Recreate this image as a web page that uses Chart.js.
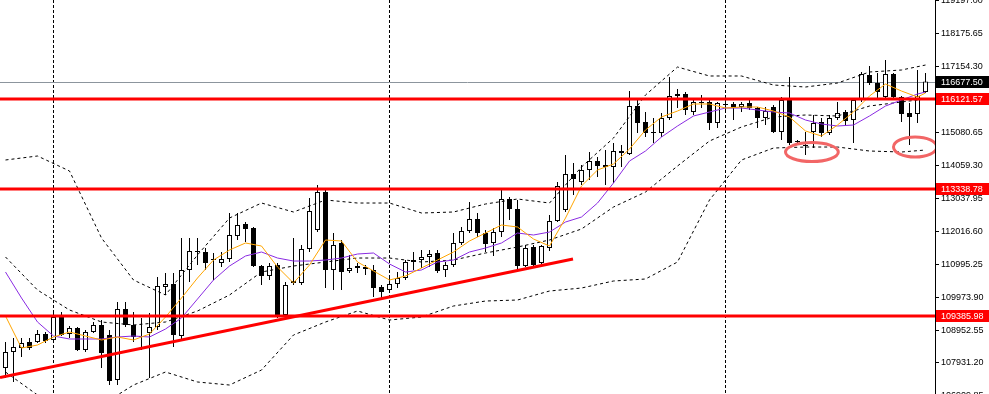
<!DOCTYPE html>
<html>
<head>
<meta charset="utf-8">
<script src="https://cdn.jsdelivr.net/npm/chart.js@4.4.1/dist/chart.umd.min.js"></script>
<style>
  html, body { margin: 0; padding: 0; background: #fff; overflow: hidden; }
  #wrap { width: 989px; height: 394px; overflow: hidden; }
</style>
</head>
<body>
<div id="wrap"><canvas id="chart" width="989" height="420"></canvas></div>
<script>
// Candles (bar index 0..115)
const openP = [
  107776,108273,108397,108583,108583,108832,108646,109360,108832,109018,
  108335,108894,109112,108801,107403,109609,109112,108770,108863,109049,
  110292,110386,108770,110821,111411,111380,111162,111038,111162,111877,
  112250,112126,110945,110634,110976,109422,110417,110417,111473,112063,
  113244,110821,111660,110790,110883,110852,110821,110292,110199,110386,
  110572,111069,111131,111225,111349,110821,110976,111660,112032,112405,
  111970,111660,112001,113027,112716,110945,111535,111038,111504,112343,
  112685,113804,113555,113928,114207,114083,114021,114518,114425,115916,
  115419,115109,115077,115544,116289,116289,115730,116041,116041,115388,
  115979,115979,115885,116010,115854,115544,115885,115109,116103,114829,
  114705,115109,115419,115077,115544,115730,115481,116103,116880,116631,
  116196,116911,116196,115699,115668,116351
];
const highP = [
  108583,108708,108708,108708,108956,108894,109516,109516,109081,109049,
  108956,109205,109267,108956,109826,109826,109516,109329,109484,110603,
  110727,110727,111815,111815,111815,111504,111349,111380,112592,112592,
  112312,112157,110976,111038,111038,110448,111815,111597,113058,113462,
  113368,111970,111753,111287,111038,110976,110976,110354,110603,110758,
  111131,111380,111442,111442,111442,111069,111970,112157,112933,112592,
  112063,112126,113306,113089,112996,111597,111597,111597,112530,113555,
  114394,114145,114083,114487,114332,114549,114767,114705,116382,116103,
  115730,115544,115699,116817,116445,116351,116134,116258,116103,116041,
  116165,116041,116041,116103,115885,115885,115947,116196,116817,114860,
  115109,115637,115544,115637,116041,115792,116165,116973,117159,116942,
  117346,116942,116227,116010,117035,116942
];
const lowP = [
  107465,107341,108117,108335,108552,108552,108583,108770,108708,108304,
  108273,108863,107776,107247,107247,109049,108583,108335,107465,108956,
  110044,108428,108646,110448,110976,110821,110510,110914,111069,111753,
  111691,110914,110354,110510,109329,109360,110354,110354,111380,112001,
  110261,110199,110199,110727,110727,110665,109982,109951,110106,110261,
  110510,110821,110883,110914,110727,110603,110914,111597,111970,111846,
  111380,111256,111846,112374,110821,110914,110914,110976,111411,112312,
  112623,113151,113462,113617,113710,113462,113524,114021,114394,115077,
  114953,114767,114953,115481,115854,115637,115637,115854,115171,115233,
  115730,115481,115730,115792,115233,115326,115077,114860,114705,114767,
  114394,114611,114953,115015,115481,115326,114767,116041,116569,116103,
  116165,116165,115419,114705,115388,116320
];
const closeP = [
  108273,108428,108552,108397,108832,108614,109360,108801,109018,108335,
  108894,109112,108242,107372,109609,109112,108739,108739,109049,110323,
  110386,108801,110821,111411,111380,111038,111131,111162,111908,112219,
  112095,110945,110634,110945,109422,110354,110479,111473,112654,113244,
  110821,111597,110758,110883,110945,110914,110261,110137,110386,110572,
  111069,111131,111225,111318,110790,110976,111660,112032,112405,111970,
  111628,112001,113027,112716,110945,111504,110976,111566,112343,113431,
  113804,113648,113928,114207,114052,114021,114518,114456,115916,115388,
  115077,115077,115544,116227,116227,115792,116041,116010,115388,116010,
  115947,115854,115979,115854,115544,115761,115109,116103,114767,114798,
  114674,115388,115077,115544,115699,115450,116103,116911,116631,116351,
  116911,116196,115668,115575,116227,116677.50
];
const lastPrice = 116677.50;

// Moving averages, read every second bar
const maIdx = [0,2,4,6,8,10,12,14,16,18,20,22,24,26,28,30,32,34,36,38,40,42,44,46,48,50,52,54,56,58,
  60,62,64,66,68,70,72,74,76,78,80,82,84,86,88,90,92,94,96,98,100,102,104,106,108,110,112,114,115];
const maFast = [
  109391,108397,108490,108739,108894,108770,108646,108739,108646,108832,
  109360,109951,110572,111131,111442,111660,111566,110914,110417,110976,
  111753,111722,111069,110790,110510,110634,110883,111131,111380,111722,
  111970,112219,112157,111784,111566,112436,113431,113928,114114,114580,
  115171,115575,115761,115979,115979,115854,115885,115885,115761,115575,
  115140,114984,115326,115730,116227,116600,116382,116196,116320
];
const maSlow = [
  110758,109951,109205,108770,108677,108677,108677,108739,108770,108739,
  108987,109329,109919,110510,110945,111256,111380,111193,111100,111100,
  111131,111193,111318,111349,111007,110758,110821,111069,111131,111380,
  111504,111660,111970,111908,112001,112312,112467,112902,113524,114207,
  114518,114953,115295,115606,115730,115854,115854,115792,115730,115699,
  115481,115357,115295,115326,115606,115916,116103,116289,116351
];

// Bollinger bands, read every fourth bar
const bandIdx = [0,4,8,12,16,20,24,28,32,36,40,44,48,52,56,60,64,68,72,76,80,84,88,92,96,100,104,108,112,115];
const bandUpper = [
  114239,114363,113897,111815,110510,110044,111287,112436,112902,112623,
  112996,112902,112902,112592,112623,112871,113027,112902,114021,114922,
  116258,117128,116849,116849,116569,116507,116631,116973,117035,117190
];
const bandMiddle = [
  111225,110199,109578,109205,109112,109205,109547,110044,110758,110945,
  111069,111193,111193,111069,111131,111349,111535,111753,112095,112778,
  113244,114052,114829,115264,115575,115637,115606,115916,116041,116134
];
const bandLower = [
  107651,106937,106626,106626,107247,107651,107341,107247,107713,108801,
  109205,109547,109267,109360,109702,109857,109888,110168,110261,110479,
  110541,111069,112996,114239,114611,114642,114642,114518,114487,114549
];

// Drawn objects
const levels = [116121.57, 113338.78, 109385.98];
const trendIdx = [-0.6875, 70.94];
const trendPrice = [107481, 111162];
const ellipseIdx = [100.8, 113.7];
const ellipsePrice = [114487, 114642];
const ellipseHalfBars = [3.3, 2.7];
const ellipseHalfPrice = [295, 311];

const priceTicks = [119197.00, 118175.65, 117154.30, 116132.95, 115080.65, 114059.30,
  113037.95, 112016.60, 110995.25, 109973.90, 108952.55, 107931.20, 106909.85];
const vGridIdx = [6, 48, 90];

const pts = (xs, ys) => xs.map((x, i) => ({x: x, y: ys[i]}));
const labelFont = '9px "Liberation Sans", Arial, sans-serif';

const overlay = {
  id: 'overlay',
  beforeDatasetsDraw(chart) {
    const {ctx, chartArea: a} = chart;
    const y = chart.scales.y;
    const py = Math.round(y.getPixelForValue(lastPrice)) + 0.5;
    ctx.save();
    ctx.strokeStyle = '#8c959d';
    ctx.lineWidth = 1;
    ctx.beginPath();
    ctx.moveTo(a.left, py);
    ctx.lineTo(a.right, py);
    ctx.stroke();
    ctx.restore();
  },
  afterDatasetsDraw(chart) {
    const {ctx, chartArea: a} = chart;
    const x = chart.scales.x, y = chart.scales.y;
    ctx.save();
    ctx.beginPath();
    ctx.rect(a.left, a.top, a.right - a.left, a.bottom - a.top);
    ctx.clip();
    ctx.strokeStyle = '#ff0000';
    ctx.lineWidth = 3;
    levels.forEach(v => {
      const py = Math.round(y.getPixelForValue(v));
      ctx.beginPath();
      ctx.moveTo(a.left, py);
      ctx.lineTo(a.right, py);
      ctx.stroke();
    });
    ctx.strokeStyle = '#f26666';
    ctx.lineWidth = 3;
    ellipseIdx.forEach((cx, i) => {
      const px = x.getPixelForValue(cx);
      const py = y.getPixelForValue(ellipsePrice[i]);
      const rx = Math.abs(x.getPixelForValue(cx + ellipseHalfBars[i]) - px);
      const ry = Math.abs(y.getPixelForValue(ellipsePrice[i] + ellipseHalfPrice[i]) - py);
      ctx.beginPath();
      ctx.ellipse(px, py, rx, ry, 0, 0, Math.PI * 2);
      ctx.stroke();
    });
    ctx.restore();
  },
  afterDraw(chart) {
    const {ctx, chartArea: a} = chart;
    const y = chart.scales.y;
    const boxes = [[lastPrice, '#000000']].concat(levels.map(v => [v, '#ff0000']));
    ctx.save();
    ctx.font = labelFont;
    ctx.textBaseline = 'middle';
    boxes.forEach(([v, bg]) => {
      const py = Math.round(y.getPixelForValue(v));
      ctx.fillStyle = bg;
      ctx.fillRect(a.right + 1, py - 6, 989 - a.right, 12);
      ctx.fillStyle = '#ffffff';
      ctx.fillText(v.toFixed(2), a.right + 6, py + 0.5);
    });
    ctx.restore();
  }
};

new Chart(document.getElementById('chart'), {
  type: 'bar',
  data: {
    datasets: [
      {type: 'line', data: pts(trendIdx, trendPrice), borderColor: '#ff0000', borderWidth: 3,
        pointRadius: 0, order: 0},
      {type: 'line', data: pts(maIdx, maFast), borderColor: '#ffa500', borderWidth: 1,
        pointRadius: 0, order: 1},
      {type: 'line', data: pts(maIdx, maSlow), borderColor: '#8a2be2', borderWidth: 1,
        pointRadius: 0, order: 1},
      {type: 'line', data: pts(bandIdx, bandUpper), borderColor: '#000', borderWidth: 1,
        borderDash: [3, 3], pointRadius: 0, order: 2},
      {type: 'line', data: pts(bandIdx, bandMiddle), borderColor: '#000', borderWidth: 1,
        borderDash: [3, 3], pointRadius: 0, order: 2},
      {type: 'line', data: pts(bandIdx, bandLower), borderColor: '#000', borderWidth: 1,
        borderDash: [3, 3], pointRadius: 0, order: 2},
      {data: openP.map((o, i) => ({x: i, y: [o, closeP[i]]})),
        backgroundColor: c => closeP[c.dataIndex] >= openP[c.dataIndex] ? '#ffffff' : '#000000',
        borderColor: '#000', borderWidth: 1, borderSkipped: false, barThickness: 5,
        inflateAmount: 0, grouped: false, order: 3},
      {data: lowP.map((l, i) => ({x: i, y: [l, highP[i]]})),
        backgroundColor: '#000', borderWidth: 0, barThickness: 1,
        inflateAmount: 0, grouped: false, order: 4}
    ]
  },
  options: {
    responsive: false,
    animation: false,
    devicePixelRatio: 1,
    layout: {padding: 0, autoPadding: false},
    plugins: {legend: {display: false}, tooltip: {enabled: false}},
    scales: {
      x: {
        type: 'linear', min: -0.6875, max: 116.1875, offset: false,
        afterBuildTicks: s => { s.ticks = vGridIdx.map(v => ({value: v})); },
        afterFit: s => { s.height = 0; s.paddingLeft = 0; s.paddingRight = 0; },
        ticks: {display: false},
        grid: {color: '#000', lineWidth: 1, drawTicks: false, offset: false},
        border: {display: false, dash: [3, 2]}
      },
      y: {
        position: 'right', min: 106160.1, max: 119210.3,
        afterBuildTicks: s => { s.ticks = priceTicks.map(v => ({value: v})); },
        afterFit: s => { s.width = 54; s.paddingTop = 0; s.paddingBottom = 0; },
        ticks: {callback: v => Number(v).toFixed(2), color: '#000', padding: 2, autoSkip: false,
          font: {family: '"Liberation Sans", Arial, sans-serif', size: 9}},
        grid: {drawOnChartArea: false, drawTicks: true, tickLength: 4, color: '#000'},
        border: {display: true, color: '#000', width: 1}
      }
    }
  },
  plugins: [overlay]
});
</script>
</body>
</html>
